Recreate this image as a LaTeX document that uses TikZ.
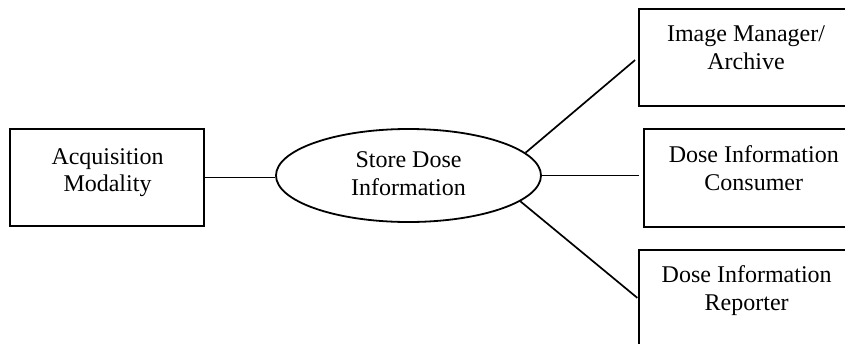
\documentclass[tikz,border=0pt]{standalone}
\usepackage{fontspec}
\setmainfont{Liberation Serif}
\usetikzlibrary{shapes.geometric}
\begin{document}
\begin{tikzpicture}[x=1pt,y=-1pt,
  boxnode/.style={draw=black,line width=1.8pt,rectangle,inner sep=0pt},
  ellnode/.style={draw=black,line width=1.8pt,ellipse,inner sep=0pt,minimum width=265pt,minimum height=93pt},
  txt/.style={anchor=base,inner sep=0pt,font=\fontsize{24}{27}\selectfont},
  conn/.style={draw=black,line width=1.7pt}]
\clip (0,0) rectangle (845,343);
\useasboundingbox (0,0) rectangle (845,343);
% boxes
\node[boxnode,minimum width=194pt,minimum height=97pt] (acq) at (107,177.5) {};
\node[boxnode,minimum width=214pt,minimum height=97pt] (img) at (746,57.5) {};
\node[boxnode,minimum width=219pt,minimum height=98pt] (cons) at (753.5,178) {};
\node[boxnode,minimum width=215pt,minimum height=97pt] (rep) at (746.5,298.5) {};
\node[ellnode] (ell) at (408.5,175.5) {};
% labels
\node[txt] (acqA) at (107.5,164) {Acquisition};
\node[txt] (acqB) at (107.5,191) {Modality};
\node[txt] (ellA) at (408.5,167.3) {Store Dose};
\node[txt] (ellB) at (408.5,195) {Information};
\node[txt] (imgA) at (746,41.7) {Image Manager/};
\node[txt] (imgB) at (746,69) {Archive};
\node[txt] (consA) at (753.8,162.7) {Dose Information};
\node[txt] (consB) at (753.8,190.5) {Consumer};
\node[txt] (repA) at (746.7,282.3) {Dose Information};
\node[txt] (repB) at (746.7,310) {Reporter};
% connectors
\draw[conn] (acq.east) -- (acq.east -| ell.west);
\draw[conn,shorten >=4pt] (ell.11) -- (img.west);
\draw[conn,shorten >=4pt] (ell.east) -- (ell.east -| cons.west);
\draw[conn,shorten >=1pt] (ell.-13) -- (rep.west);
\end{tikzpicture}
\end{document}
